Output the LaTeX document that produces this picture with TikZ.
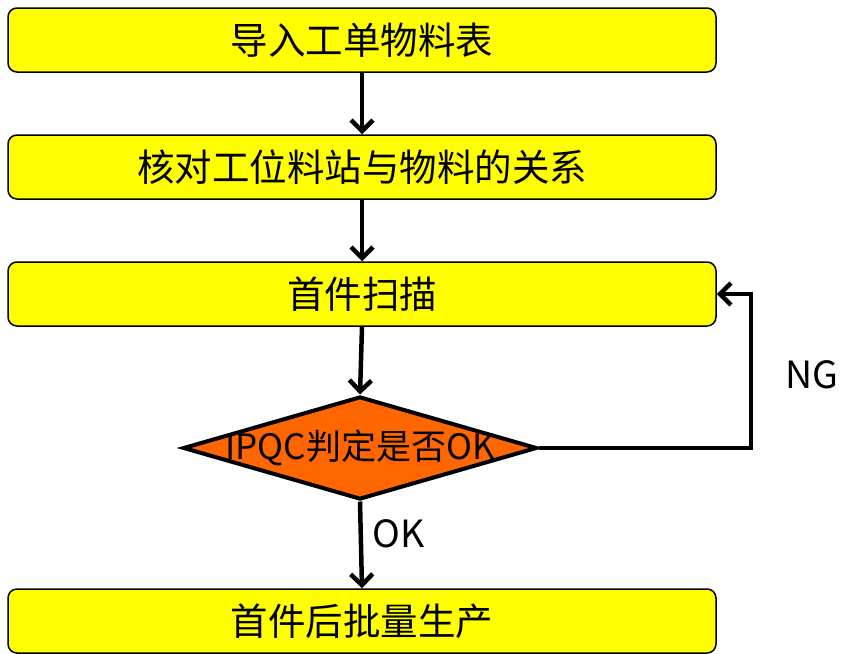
\documentclass[tikz,border=0pt]{standalone}
\usepackage{xcolor}
\definecolor{boxyel}{HTML}{FFFF00}
\definecolor{diaorg}{HTML}{FF6600}
\usepackage{fontspec}
\setmainfont{Noto Sans CJK SC}
\usepackage{tikz}
\usetikzlibrary{arrows.meta}
\usetikzlibrary{shapes.geometric}
\usetikzlibrary{positioning}

\begin{document}
\begin{tikzpicture}[x=1pt,y=-1pt,
    stepbox/.style={draw,line width=1.5pt,fill=boxyel,rounded corners=9pt,minimum width=708pt,minimum height=64pt,font=\fontsize{37.5}{42}\selectfont},
    flow/.style={line width=4.5pt,-{Straight Barb[length=11pt,width=22pt,line width=4.5pt]}}]
          \useasboundingbox (0,0) rectangle (845,653);
          \node[stepbox](s1) at (362,40) {导入工单物料表};
          \node[stepbox](s2) at (362,167) {核对工位料站与物料的关系};
          \node[stepbox](s3) at (362,294) {首件扫描};
          \node[draw,line width=4pt,fill=diaorg,diamond,minimum width=354pt,minimum height=103pt,inner sep=0pt,
                label={[font=\fontsize{35}{40}\selectfont]center:IPQC判定是否OK}](q) at (360,448) {};
          \node[stepbox](s4) at (362,621) {首件后批量生产};
          \coordinate (ng) at (751,448);
          \draw[flow] (s1.south) -- (s2.north);
          \draw[flow] (s2.south) -- (s3.north);
          \draw[flow] (s3.south) -- (q.north);
          \draw[flow] (q.south) -- (s4.north);
          \draw[flow] (q.east) -- (ng) |- (s3.east);
          \node[font=\fontsize{37.5}{42}\selectfont](nglab) at (812,375) {NG};
          \node[font=\fontsize{37.5}{42}\selectfont](oklab) at (399,534) {OK};
      \end{tikzpicture}
\end{document}
